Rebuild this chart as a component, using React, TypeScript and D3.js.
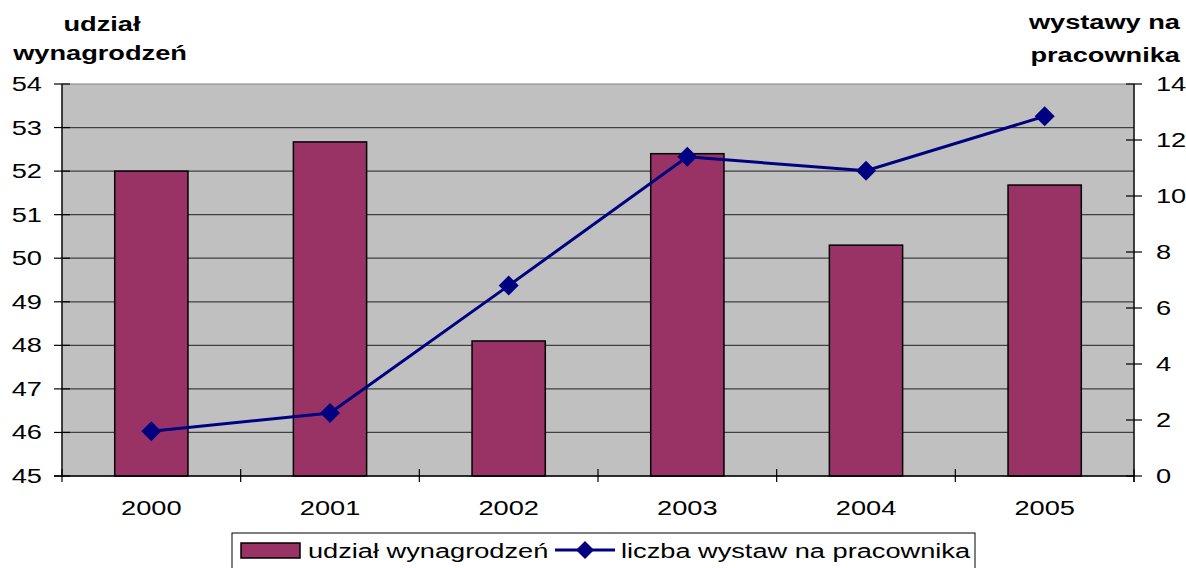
import React from "react";
import * as d3 from "d3";

const categories = ["2000", "2001", "2002", "2003", "2004", "2005"];
const wageShare = [52.0, 52.67, 48.1, 52.4, 50.3, 51.68];
const exhibitions = [1.6, 2.25, 6.8, 11.4, 10.9, 12.85];
const leftTicks = [45, 46, 47, 48, 49, 50, 51, 52, 53, 54];
const rightTicks = [0, 2, 4, 6, 8, 10, 12, 14];
const barLabel = "udział wynagrodzeń";
const lineLabel = "liczba wystaw na pracownika";

const SX = 1.36;

function T(props: { x: number; y: number; anchor?: "start" | "middle" | "end"; bold?: boolean; children: React.ReactNode }) {
  return (
    <text
      transform={`translate(${props.x},${props.y}) scale(${SX},1)`}
      textAnchor={props.anchor || "start"}
      fontSize={20}
      fontWeight={props.bold ? "bold" : "normal"}
    >
      {props.children}
    </text>
  );
}

export default function App() {
  const W = 1186, H = 568;
  const left = 62, right = 1134, top = 84, bottom = 476;
  const x = d3.scaleBand<string>().domain(categories).range([left, right]).paddingInner(0).paddingOuter(0);
  const yL = d3.scaleLinear().domain([45, 54]).range([bottom, top]);
  const yR = d3.scaleLinear().domain([0, 14]).range([bottom, top]);
  const bw = x.bandwidth() * 0.41;
  const font = "Liberation Sans, Arial, sans-serif";
  const line = d3.line<number>().x((_, i) => x(categories[i])! + x.bandwidth() / 2).y((d) => yR(d));
  const diamond = (cx: number, cy: number, r: number) => `M${cx},${cy - r}L${cx + r},${cy}L${cx},${cy + r}L${cx - r},${cy}Z`;
  const bounds = [...categories.map((c) => x(c)!), right];

  return (
    <svg width={W} height={H} style={{ position: "absolute", left: 0, top: 0, background: "#fff" }} fontFamily={font}>
      <rect x={left} y={top} width={right - left} height={bottom - top} fill="#C0C0C0" stroke="#808080" strokeWidth={1} />
      {leftTicks.slice(1, -1).map((t) => (
        <line key={t} x1={left} x2={right} y1={yL(t)} y2={yL(t)} stroke="#404040" strokeWidth={1.2} />
      ))}
      {categories.map((c, i) => (
        <rect key={c} x={x(c)! + (x.bandwidth() - bw) / 2} y={yL(wageShare[i])} width={bw} height={bottom - yL(wageShare[i])} fill="#993366" stroke="#000" strokeWidth={1.5} />
      ))}
      <line x1={left} x2={left} y1={top} y2={bottom} stroke="#000" strokeWidth={1.3} />
      <line x1={right} x2={right} y1={top} y2={bottom + 6} stroke="#000" strokeWidth={1.3} />
      <line x1={left - 8} x2={right} y1={bottom} y2={bottom} stroke="#000" strokeWidth={1.3} />
      {leftTicks.map((t) => (
        <g key={t}>
          <line x1={left - 8} x2={left + 8} y1={yL(t)} y2={yL(t)} stroke="#000" strokeWidth={1.2} />
          <T x={42} y={yL(t) + 7} anchor="end">{t}</T>
        </g>
      ))}
      {rightTicks.map((t) => (
        <g key={t}>
          <line x1={right - 8} x2={right + 8} y1={yR(t)} y2={yR(t)} stroke="#000" strokeWidth={1.2} />
          <T x={1156} y={yR(t) + 7}>{t}</T>
        </g>
      ))}
      {bounds.map((b, i) => (
        <line key={i} x1={b} x2={b} y1={bottom - 7} y2={bottom + 6} stroke="#000" strokeWidth={1.2} />
      ))}
      {categories.map((c) => (
        <T key={c} x={x(c)! + x.bandwidth() / 2} y={515} anchor="middle">{c}</T>
      ))}
      <path d={line(exhibitions)!} fill="none" stroke="#000080" strokeWidth={3} />
      {exhibitions.map((v, i) => (
        <path key={i} d={diamond(x(categories[i])! + x.bandwidth() / 2, yR(v), 10)} fill="#000080" />
      ))}
      <T x={102} y={31} anchor="middle" bold>udział</T>
      <T x={100} y={60} anchor="middle" bold>wynagrodzeń</T>
      <T x={1180} y={29} anchor="end" bold>wystawy na</T>
      <T x={1180} y={62} anchor="end" bold>pracownika</T>
      <rect x={232} y={533} width={743} height={40} fill="#fff" stroke="#000" strokeWidth={1} />
      <rect x={241} y={543} width={59} height={15} fill="#993366" stroke="#000" strokeWidth={1.5} />
      <T x={308} y={558}>{barLabel}</T>
      <line x1={555} x2={615} y1={550} y2={550} stroke="#000080" strokeWidth={3} />
      <path d={diamond(585, 550, 9)} fill="#000080" />
      <T x={621} y={558}>{lineLabel}</T>
    </svg>
  );
}
